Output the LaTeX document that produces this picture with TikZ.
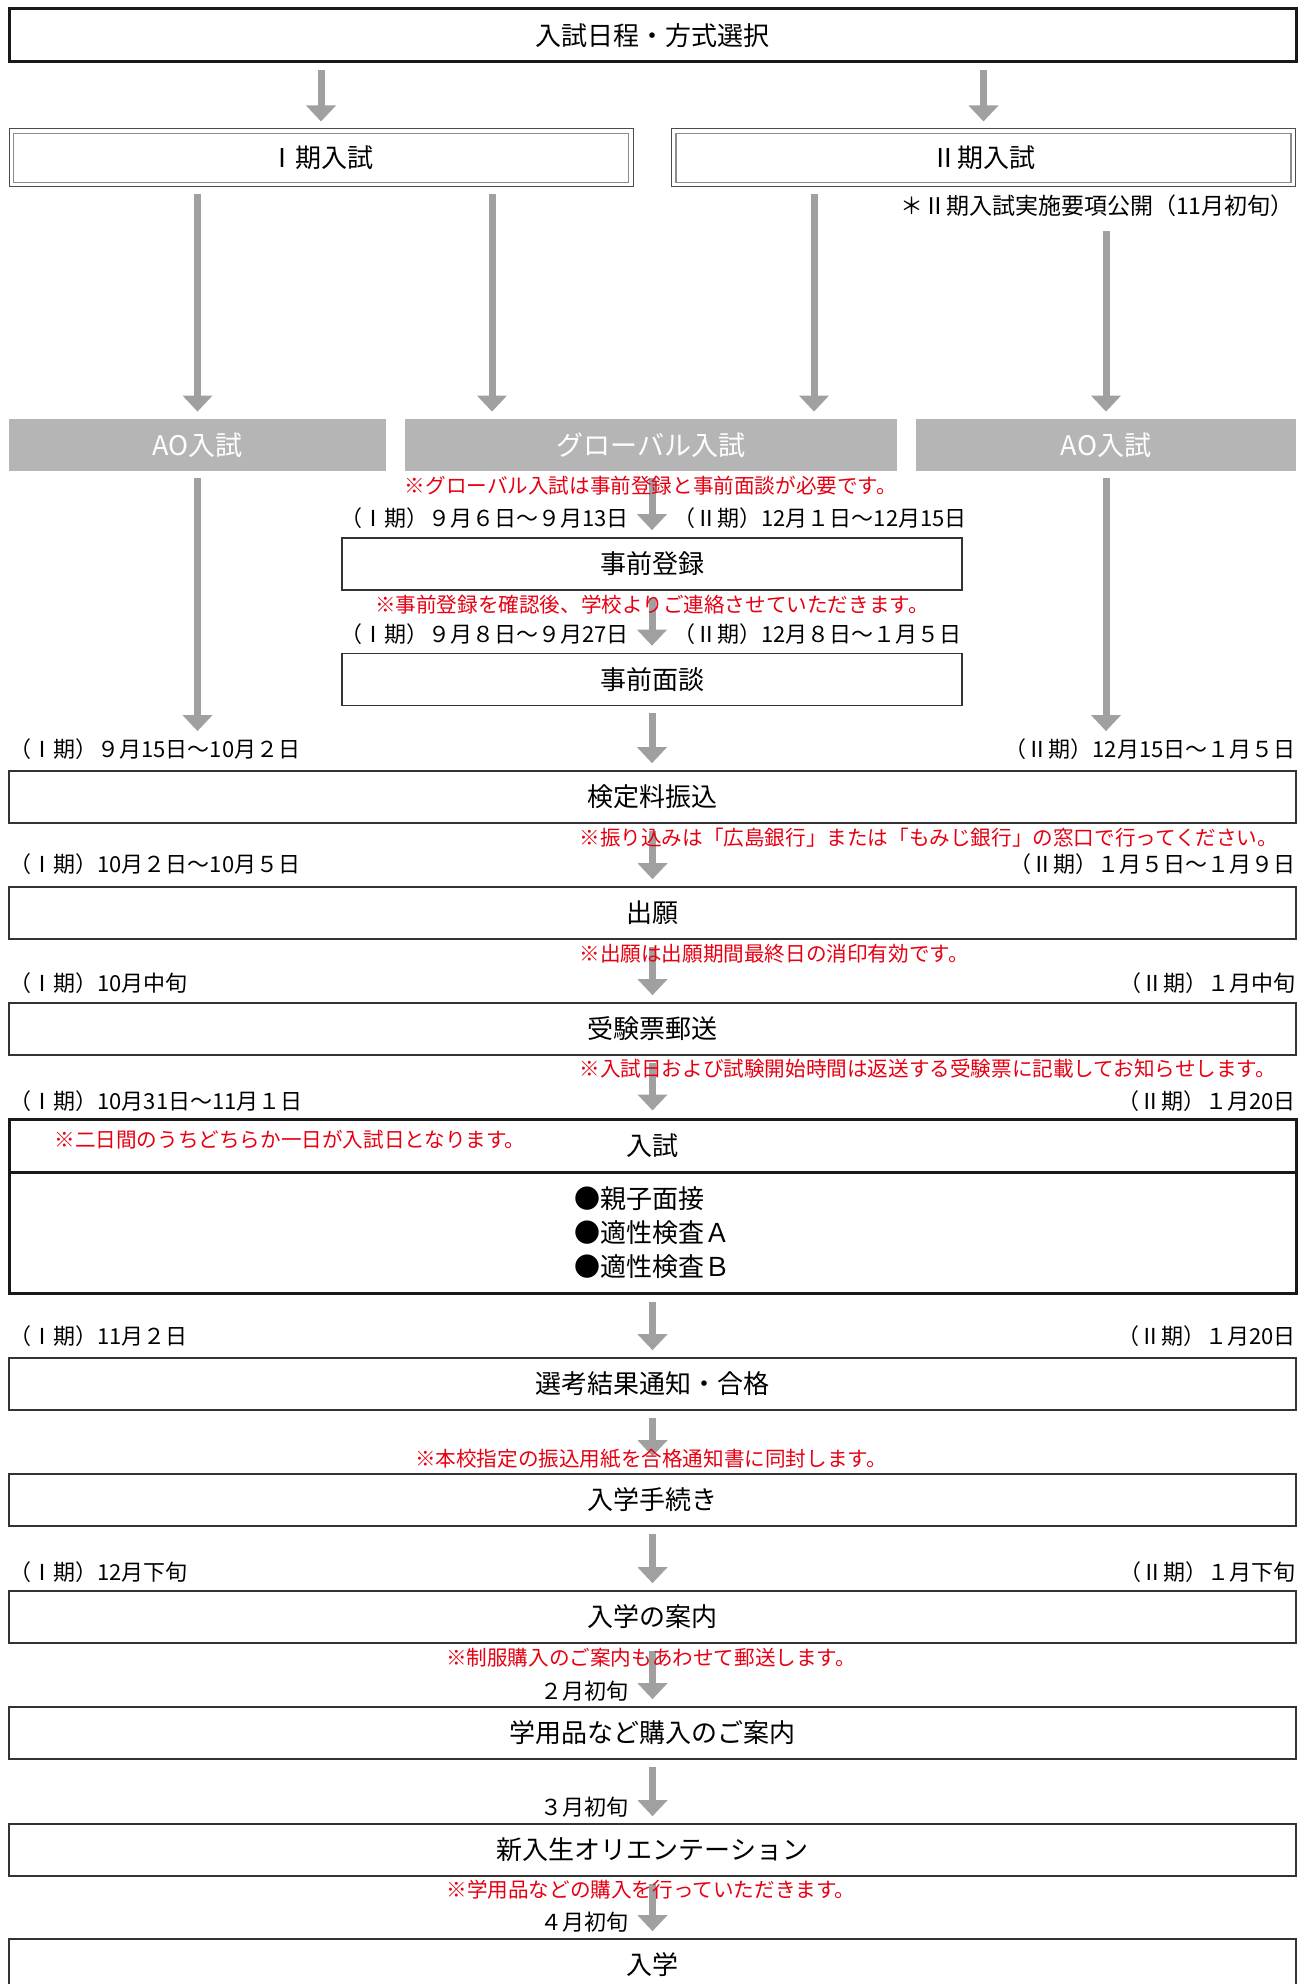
\documentclass[tikz,border=0pt]{standalone}
\usepackage{fontspec}
\setmainfont{Noto Sans CJK JP}
\usetikzlibrary{arrows.meta}
\definecolor{arrgray}{HTML}{A0A0A0}
\definecolor{boxgray}{HTML}{B5B5B5}
\definecolor{notered}{HTML}{E60012}
\tikzstyle{box}=[draw=black!80,%
                 line width=0.8pt,%
                 rectangle,%
                 minimum width=643.5pt,%
                 minimum height=26pt,%
                 inner sep=0pt,%
                 font=\fontsize{13}{15}\selectfont]
\tikzstyle{thickbox}=[box, draw=black!90, line width=1.5pt]
\tikzstyle{period}=[draw=black!70, line width=0.5pt, rectangle, minimum width=312pt, minimum height=29pt, font=\fontsize{13}{15}\selectfont]
\tikzstyle{entry}=[fill=boxgray, rectangle, minimum height=26pt, text=white, font=\fontsize{13.5}{15}\selectfont]
\tikzstyle{date}=[font=\fontsize{11}{13}\selectfont, inner sep=0pt]
\tikzstyle{note}=[text=notered, font=\fontsize{10.3}{12}\selectfont, inner sep=0pt]
\tikzstyle{arr}=[draw=arrgray, line width=3.5pt, -{Triangle[width=14.5pt,length=8pt]}, shorten <=3.5pt, shorten >=3.5pt]

\begin{document}
\begin{tikzpicture}[x=0.5pt,y=-0.5pt]
  \useasboundingbox (0,0) rectangle (1306,1984);
  % choice and the two periods
  \node[thickbox, minimum height=26.5pt] (top) at (652.5,35.5) {入試日程・方式選択};
  \node[period] (p1) at (321,158) {Ⅰ期入試};
  \node[period] (p2) at (983.5,158) {Ⅱ期入試};
  \draw[black!45, line width=0.8pt] ([shift={(2.5pt,-2.5pt)}]p1.north west) rectangle ([shift={(-2.5pt,2.5pt)}]p1.south east);
  \draw[black!45, line width=0.8pt] ([shift={(2.5pt,-2.5pt)}]p2.north west) rectangle ([shift={(-2.5pt,2.5pt)}]p2.south east);
  \node[date, anchor=east, font=\fontsize{11.5}{13}\selectfont] (pub) at (1294,206) {＊Ⅱ期入試実施要項公開（11月初旬）};
  \coordinate (gx1) at (492,0);
  \coordinate (gx2) at (814,0);

  % kinds of entry
  \node[entry, minimum width=188.5pt] (ao1) at (197.5,445) {AO入試};
  \node[entry, minimum width=246pt] (gl) at (651,445) {グローバル入試};
  \node[entry, minimum width=190pt] (ao2) at (1106,445) {AO入試};
  \node[box, minimum width=310pt] (reg) at (652,564) {事前登録};
  \node[box, minimum width=310pt] (itv) at (652,679.5) {事前面談};

  % main steps
  \node[box] (fee) at (652.5,797) {検定料振込};
  \node[box] (app) at (652.5,913) {出願};
  \node[box] (tkt) at (652.5,1029) {受験票郵送};
  \node[thickbox, minimum height=26.5pt] (exam) at (652.5,1145.5) {入試};
  \node[thickbox, minimum height=60.5pt, align=left, font=\fontsize{13}{17}\selectfont] (items) at (652.5,1232.5) {●親子面接\\●適性検査Ａ\\●適性検査Ｂ};
  \node[box] (res) at (652.5,1384) {選考結果通知・合格};
  \node[box] (proc) at (652.5,1500) {入学手続き};
  \node[box] (info) at (652.5,1617) {入学の案内};
  \node[box] (goods) at (652.5,1733) {学用品など購入のご案内};
  \node[box] (ori) at (652.5,1850) {新入生オリエンテーション};
  \node[box] (ent) at (652.5,1965) {入学};

  % dates
  \node[date, anchor=east] (d1a) at (629,518) {（Ⅰ期）９月６日～９月13日};
  \node[date, anchor=west] (d1b) at (673,518) {（Ⅱ期）12月１日～12月15日};
  \node[date, anchor=east] (d2a) at (629,634) {（Ⅰ期）９月８日～９月27日};
  \node[date, anchor=west] (d2b) at (673,634) {（Ⅱ期）12月８日～１月５日};
  \node[date, anchor=west] (d3a) at (9,749) {（Ⅰ期）９月15日～10月２日};
  \node[date, anchor=east] (d3b) at (1296,749) {（Ⅱ期）12月15日～１月５日};
  \node[date, anchor=west] (d4a) at (9,864) {（Ⅰ期）10月２日～10月５日};
  \node[date, anchor=east] (d4b) at (1296,864) {（Ⅱ期）１月５日～１月９日};
  \node[date, anchor=west] (d5a) at (9,983) {（Ⅰ期）10月中旬};
  \node[date, anchor=east] (d5b) at (1296,983) {（Ⅱ期）１月中旬};
  \node[date, anchor=west] (d6a) at (9,1101) {（Ⅰ期）10月31日～11月１日};
  \node[date, anchor=east] (d6b) at (1296,1101) {（Ⅱ期）１月20日};
  \node[date, anchor=west] (d7a) at (9,1336) {（Ⅰ期）11月２日};
  \node[date, anchor=east] (d7b) at (1296,1336) {（Ⅱ期）１月20日};
  \node[date, anchor=west] (d8a) at (9,1572) {（Ⅰ期）12月下旬};
  \node[date, anchor=east] (d8b) at (1296,1572) {（Ⅱ期）１月下旬};
  \node[date, anchor=east] (m1) at (629,1691) {２月初旬};
  \node[date, anchor=east] (m2) at (629,1807) {３月初旬};
  \node[date, anchor=east] (m3) at (629,1922) {４月初旬};

  % arrows
  \draw[arr] (top.south -| p1.north) -- (p1.north);
  \draw[arr] (top.south -| p2.north) -- (p2.north);
  \draw[arr] (p1.south -| ao1.north) -- (ao1.north);
  \draw[arr] (p1.south -| gx1) -- (gl.north -| gx1);
  \draw[arr] (p2.south -| gx2) -- (gl.north -| gx2);
  \draw[arr, shorten <=7pt] (pub.south -| ao2.north) -- (ao2.north);
  \draw[arr] (ao1.south) -- (d3a.north -| ao1.south);
  \draw[arr] (ao2.south) -- (d3b.north -| ao2.south);
  \draw[arr] (gl.south -| reg.north) -- (reg.north);
  \draw[arr] (reg.south) -- (itv.north);
  \draw[arr] (itv.south) -- (fee.north -| itv.south);
  \draw[arr] (fee.south) -- (app.north);
  \draw[arr] (app.south) -- (tkt.north);
  \draw[arr] (tkt.south) -- (exam.north);
  \draw[arr] (items.south) -- (res.north);
  \draw[arr, shorten >=8.5pt] (res.south) -- (proc.north);
  \draw[arr] (proc.south) -- (info.north);
  \draw[arr] (info.south) -- (goods.north);
  \draw[arr] (goods.south) -- (ori.north);
  \draw[arr] (ori.south) -- (ent.north);

  % red remarks
  \node[note, anchor=west] (n0) at (54,1140) {※二日間のうちどちらか一日が入試日となります。};
  \node[note] (n1) at (651,486) {※グローバル入試は事前登録と事前面談が必要です。};
  \node[note] (n2) at (652,605) {※事前登録を確認後、学校よりご連絡させていただきます。};
  \node[note, anchor=west] (n3) at (579,838) {※振り込みは「広島銀行」または「もみじ銀行」の窓口で行ってください。};
  \node[note, anchor=west] (n4) at (579,954) {※出願は出願期間最終日の消印有効です。};
  \node[note, anchor=west] (n5) at (579,1069) {※入試日および試験開始時間は返送する受験票に記載してお知らせします。};
  \node[note] (n6) at (651,1459) {※本校指定の振込用紙を合格通知書に同封します。};
  \node[note] (n7) at (651,1658) {※制服購入のご案内もあわせて郵送します。};
  \node[note] (n8) at (651,1890) {※学用品などの購入を行っていただきます。};
\end{tikzpicture}
\end{document}
